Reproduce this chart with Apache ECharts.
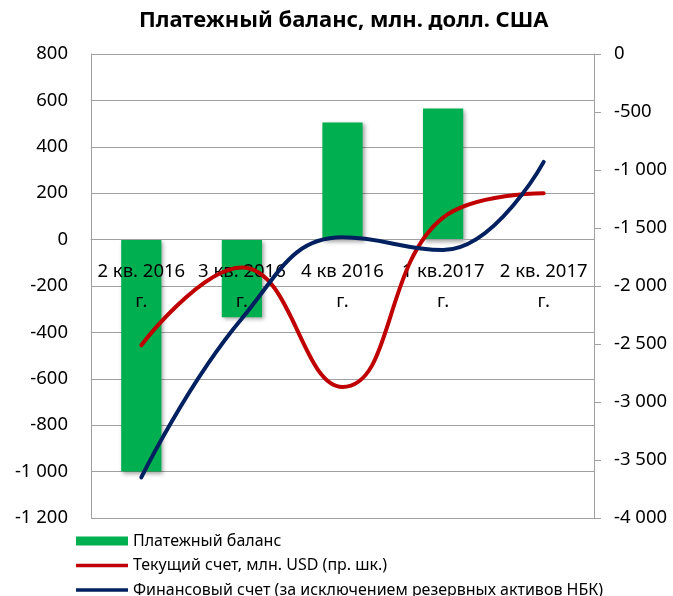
<!DOCTYPE html>
<html>
<head>
<meta charset="utf-8">
<script src="https://cdn.jsdelivr.net/npm/echarts@6/dist/echarts.min.js"></script>
<style>
html,body{margin:0;padding:0;background:#fff;}
#c{width:673px;height:596px;}
</style>
</head>
<body>
<div id="c"></div>
<script>
const categories = ['2 кв. 2016 г.', '3 кв. 2016 г.', '4 кв 2016 г.', '1 кв.2017 г.', '2 кв. 2017 г.'];
const balance = [-1000, -335, 505, 565, null];
const current = [-2510, -1840, -2870, -1410, -1200];
const financial = [-3650, -2280, -1580, -1690, -930];
const seriesNames = ['Платежный баланс', 'Текущий счет, млн. USD (пр. шк.)', 'Финансовый счет (за исключением резервных активов НБК)'];
const titleText = 'Платежный баланс, млн. долл. США';
const leftMin = -1200, leftMax = 800, leftStep = 200;
const rightMin = -4000, rightMax = 0, rightStep = 500;

const FONT = '"Noto Sans", "Open Sans", sans-serif';
const fmt = v => String(v).replace(/\B(?=(\d{3})+(?!\d))/g, ' ');

const gridTop = 54, gridBottom = 78, H = 596;
const plotH = H - gridTop - gridBottom;
// raise the category axis to the zero line of the left axis
const zeroOffset = -plotH * (0 - leftMin) / (leftMax - leftMin);

const chart = echarts.init(document.getElementById('c'), null, {renderer: 'canvas'});
chart.setOption({
  animation: false,
  backgroundColor: '#fff',
  title: {
    text: titleText, left: 139, top: 10, padding: 0,
    textStyle: {fontFamily: FONT, fontSize: 22, fontWeight: 'bold', color: '#000'}
  },
  legend: {
    orient: 'vertical', left: 76, top: 533, height: 90, padding: 0,
    itemWidth: 52, itemHeight: 9, itemGap: 8.5,
    textStyle: {fontFamily: FONT, fontSize: 16, color: '#000', lineHeight: 16},
    data: [
      {name: seriesNames[0], icon: 'rect'},
      {name: seriesNames[1], icon: 'path://M0,0H52V3.5H0Z'},
      {name: seriesNames[2], icon: 'path://M0,0H52V3.5H0Z'}
    ]
  },
  grid: {left: 91, right: 79, top: gridTop, bottom: gridBottom, containLabel: false},
  xAxis: {
    type: 'category', data: categories, z: 3,
    offset: zeroOffset,
    axisLine: {show: true, onZero: false, lineStyle: {color: '#A0A0A0', width: 1}},
    axisTick: {show: false},
    axisLabel: {
      interval: 0, margin: 17, fontFamily: FONT, fontSize: 18.5, color: '#000', lineHeight: 30,
      formatter: v => v.replace(/ г\.$/, '\nг.')
    },
    splitLine: {show: false}
  },
  yAxis: [
    {
      type: 'value', min: leftMin, max: leftMax, interval: leftStep, position: 'left',
      axisLine: {show: true, lineStyle: {color: '#A0A0A0', width: 1}},
      axisTick: {show: false},
      axisLabel: {margin: 23, fontFamily: FONT, fontSize: 18.5, color: '#000', formatter: fmt},
      splitLine: {show: true, lineStyle: {color: '#A0A0A0', width: 1}}
    },
    {
      type: 'value', min: rightMin, max: rightMax, interval: rightStep, position: 'right',
      axisLine: {show: true, lineStyle: {color: '#A0A0A0', width: 1}},
      axisTick: {show: true, length: 7, inside: false, lineStyle: {color: '#A0A0A0'}},
      axisLabel: {margin: 20, fontFamily: FONT, fontSize: 18.5, color: '#000', formatter: fmt},
      splitLine: {show: false}
    }
  ],
  series: [
    {
      name: seriesNames[0], type: 'bar', yAxisIndex: 0, data: balance,
      barWidth: '40%', z: 2,
      itemStyle: {color: '#00B050', shadowBlur: 4, shadowColor: 'rgba(0,0,0,0.35)', shadowOffsetX: 2, shadowOffsetY: 2}
    },
    {
      name: seriesNames[1], type: 'line', yAxisIndex: 1, data: current,
      smooth: 0.45, symbol: 'none', z: 5,
      lineStyle: {color: '#C00000', width: 4, cap: 'round'},
      itemStyle: {color: '#C00000'}
    },
    {
      name: seriesNames[2], type: 'line', yAxisIndex: 1, data: financial,
      smooth: 0.45, symbol: 'none', z: 6,
      lineStyle: {color: '#002060', width: 4, cap: 'round'},
      itemStyle: {color: '#002060'}
    }
  ]
});
</script>
</body>
</html>
